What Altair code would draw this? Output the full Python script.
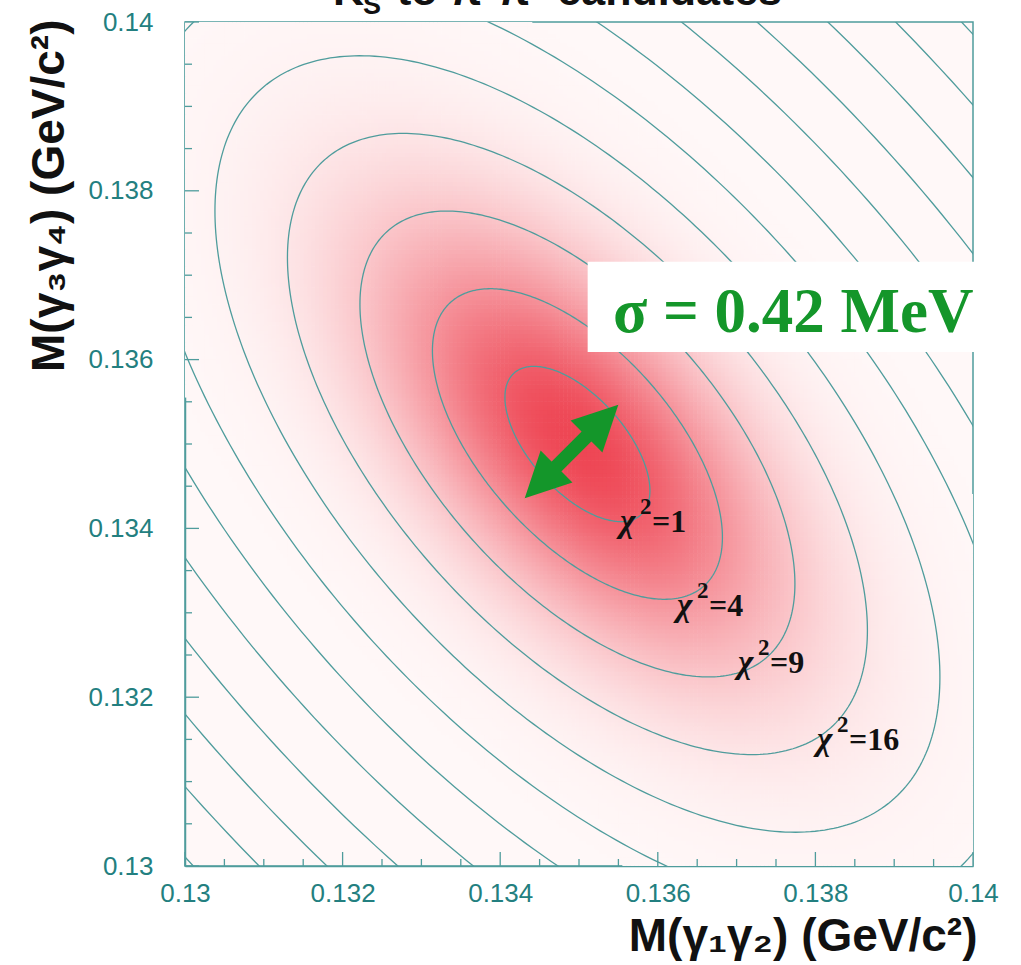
import numpy as np
import pandas as pd
import altair as alt

# ---------------- values ----------------
x_domain = [0.13, 0.14]
y_domain = [0.13, 0.14]
major_ticks = [0.130, 0.132, 0.134, 0.136, 0.138, 0.140]
minor_ticks = [0.1305, 0.131, 0.1315, 0.1325, 0.133, 0.1335, 0.1345, 0.135,
               0.1355, 0.1365, 0.137, 0.1375, 0.1385, 0.139, 0.1395]

# 2D gaussian of the two pi0 masses (GeV/c^2)
center_x = 0.13498
center_y = 0.13500
sigma_x = 0.00092
sigma_y = 0.00092
rho = -0.60

chi2_levels = [1, 4, 9, 16, 25, 36, 49, 64, 81, 100, 121, 144]

chi2_values = ["=1", "=4", "=9", "=16"]
chi2_text_x = [0.135520, 0.136244, 0.137018, 0.138020]
chi2_text_y = [0.133957, 0.132962, 0.132287, 0.131374]

sigma_text = "σ = 0.42 MeV"
sigma_text_x = [0.13543]
sigma_text_y = [0.13633]
sigma_box_x = [0.13511, 0.14015]
sigma_box_y = [0.13609, 0.13716]

arrow_x = [0.134513, 0.135297]
arrow_y = [0.134545, 0.135277]
arrow_angle = [225, 45]

x_title = "M(γ₁γ₂) (GeV/c²)"
y_title = "M(γ₃γ₄) (GeV/c²)"

# ---------------- derived tables ----------------
t = np.linspace(0, 2 * np.pi, 361)
rows = []
for k in chi2_levels:
    r = np.sqrt(k)
    px = center_x + r * sigma_x * np.cos(t)
    py = center_y + r * sigma_y * (rho * np.cos(t) + np.sqrt(1 - rho ** 2) * np.sin(t))
    for i, (a, b) in enumerate(zip(px, py)):
        rows.append({"level": k, "i": i, "x": round(float(a), 7), "y": round(float(b), 7)})
contours = pd.DataFrame(rows)

step = 0.00005
gx = np.arange(x_domain[0], x_domain[1] - 1e-12, step)
gy = np.arange(y_domain[0], y_domain[1] - 1e-12, step)
GX, GY = np.meshgrid(gx + step / 2, gy + step / 2)
dx = (GX - center_x) / sigma_x
dy = (GY - center_y) / sigma_y
chi2 = (dx ** 2 - 2 * rho * dx * dy + dy ** 2) / (1 - rho ** 2)
mask = chi2 < 40
dens = pd.DataFrame({
    "x": np.round(GX[mask] - step / 2, 6),
    "y": np.round(GY[mask] - step / 2, 6),
    "d": np.round(np.exp(-chi2[mask] / 2), 11),
})

teal = "#4f9c9c"
label_teal = "#237f80"
green = "#14962a"
bg_tint = "#fff8f8"

xs = alt.Scale(domain=x_domain, nice=False, zero=False)
ys = alt.Scale(domain=y_domain, nice=False, zero=False)
x_axis = alt.Axis(values=major_ticks, format="~g", ticks=False, grid=False,
                  domainColor=teal, domainWidth=1.5, labelColor=label_teal,
                  labelFont="Liberation Sans", labelFontSize=26, labelPadding=14,
                  labelFlush=False, labelOverlap=False,
                  title=x_title, titleFont="Liberation Sans", titleFontSize=46,
                  titleFontWeight="bold", titleColor="#111111", titleX=792, titleY=70,
                  titleAlign="right", titleBaseline="middle", titleAnchor="end")
y_axis = alt.Axis(values=major_ticks, format="~g", ticks=False, grid=False,
                  domainColor=teal, domainWidth=1.5, labelColor=label_teal,
                  labelFont="Liberation Sans", labelFontSize=26, labelPadding=32,
                  labelFlush=False, labelOverlap=False,
                  title=y_title, titleFont="Liberation Sans", titleFontSize=46,
                  titleFontWeight="bold", titleColor="#111111", titleX=-136, titleY=-3,
                  titleAngle=270, titleAlign="right", titleBaseline="middle",
                  titleAnchor="end")


def X(field="x"):
    return alt.X(f"{field}:Q", scale=xs, axis=x_axis)


def Y(field="y"):
    return alt.Y(f"{field}:Q", scale=ys, axis=y_axis)


heat = alt.Chart(dens).transform_calculate(
    x2=f"datum.x + {step * 1.15}", y2=f"datum.y + {step * 1.15}",
    v="pow(datum.d, 0.28)"
).mark_rect(strokeWidth=0, clip=True).encode(
    x=X(), x2="x2:Q", y=Y(), y2="y2:Q",
    color=alt.Color("v:Q", scale=alt.Scale(type="linear", domain=[0, 1], interpolate="rgb",
                                           range=[bg_tint, "#ee4654"]), legend=None),
)

lines = alt.Chart(contours).mark_line(color=teal, strokeWidth=1.3, clip=True).encode(
    x=X(), y=Y(), detail="level:N", order="i:Q"
)

box = alt.Chart(pd.DataFrame({"x": [sigma_box_x[0]], "x2": [sigma_box_x[1]],
                              "y": [sigma_box_y[0]], "y2": [sigma_box_y[1]]})).mark_rect(
    color="white").encode(x=X(), x2="x2:Q", y=Y(), y2="y2:Q")

sig = alt.Chart(pd.DataFrame({"x": sigma_text_x, "y": sigma_text_y, "t": [sigma_text]})).mark_text(
    font="Liberation Serif", fontWeight="bold", fontSize=63, color=green,
    align="left", baseline="alphabetic").encode(x=X(), y=Y(), text="t:N")

arrow_df = pd.DataFrame({"x": arrow_x, "y": arrow_y, "a": arrow_angle, "i": [0, 1]})
shaft = alt.Chart(arrow_df).mark_line(color=green, strokeWidth=14, strokeCap="butt").encode(
    x=X(), y=Y(), order="i:Q")
heads = alt.Chart(arrow_df).mark_point(shape="M0,-1L-1,1L1,1Z", filled=True, size=2025,
                                       color=green, opacity=1, strokeWidth=0).encode(
    x=X(), y=Y(), angle=alt.Angle("a:Q", scale=None))

chi_df = pd.DataFrame({"x": chi2_text_x, "y": chi2_text_y, "t": chi2_values,
                       "chi": ["χ"] * 4, "sup": ["2"] * 4})
chi_sym = alt.Chart(chi_df).mark_text(
    font="Liberation Serif", fontWeight="bold", fontStyle="italic", fontSize=33,
    color="#111111", align="left", baseline="alphabetic").encode(x=X(), y=Y(), text="chi:N")
chi_sup = alt.Chart(chi_df).mark_text(
    font="Liberation Serif", fontWeight="bold", fontSize=23, color="#111111",
    align="left", baseline="alphabetic", dx=20, dy=-18).encode(x=X(), y=Y(), text="sup:N")
chi_val = alt.Chart(chi_df).mark_text(
    font="Liberation Serif", fontWeight="bold", fontSize=32, color="#111111",
    align="left", baseline="alphabetic", dx=32).encode(x=X(), y=Y(), text="t:N")

xt_major = alt.Chart(pd.DataFrame({"x": major_ticks})).mark_rule(color=teal, strokeWidth=1.3).encode(
    x=X(), y=alt.value(844), y2=alt.value(830))
xt_minor = alt.Chart(pd.DataFrame({"x": minor_ticks})).mark_rule(color=teal, strokeWidth=1.3).encode(
    x=X(), y=alt.value(844), y2=alt.value(837))
yt_major = alt.Chart(pd.DataFrame({"y": major_ticks})).mark_rule(color=teal, strokeWidth=1.3).encode(
    y=Y(), x=alt.value(0), x2=alt.value(14))
yt_minor = alt.Chart(pd.DataFrame({"y": minor_ticks})).mark_rule(color=teal, strokeWidth=1.3).encode(
    y=Y(), x=alt.value(0), x2=alt.value(7))

title_k = alt.Chart(pd.DataFrame({"t": ["K"]})).mark_text(
    font="Liberation Sans", fontWeight="bold", fontSize=43, color="#111111",
    align="left", baseline="alphabetic").encode(x=alt.value(148), y=alt.value(-17), text="t:N")
title_s = alt.Chart(pd.DataFrame({"t": ["S"]})).mark_text(
    font="Liberation Sans", fontWeight="bold", fontSize=27, color="#111111",
    align="left", baseline="alphabetic").encode(x=alt.value(178), y=alt.value(-8), text="t:N")
title_rest = alt.Chart(pd.DataFrame({"t": ["to π⁰π⁰ candidates"]})).mark_text(
    font="Liberation Sans", fontWeight="bold", fontSize=43, color="#111111",
    align="left", baseline="alphabetic").encode(x=alt.value(212), y=alt.value(-17), text="t:N")

chart = alt.layer(
    heat, lines, box, sig, shaft, heads, chi_sym, chi_sup, chi_val,
    xt_major, xt_minor, yt_major, yt_minor, title_k, title_s, title_rest
).properties(
    width=788, height=844,
    padding={"left": 185, "top": 22, "right": 48, "bottom": 99},
    autosize=alt.AutoSizeParams(type="none"),
    background="white",
).configure_view(stroke=teal, strokeWidth=1.5, fill=bg_tint)

chart.save("out.html", embed_options={"renderer": "svg", "actions": False})
